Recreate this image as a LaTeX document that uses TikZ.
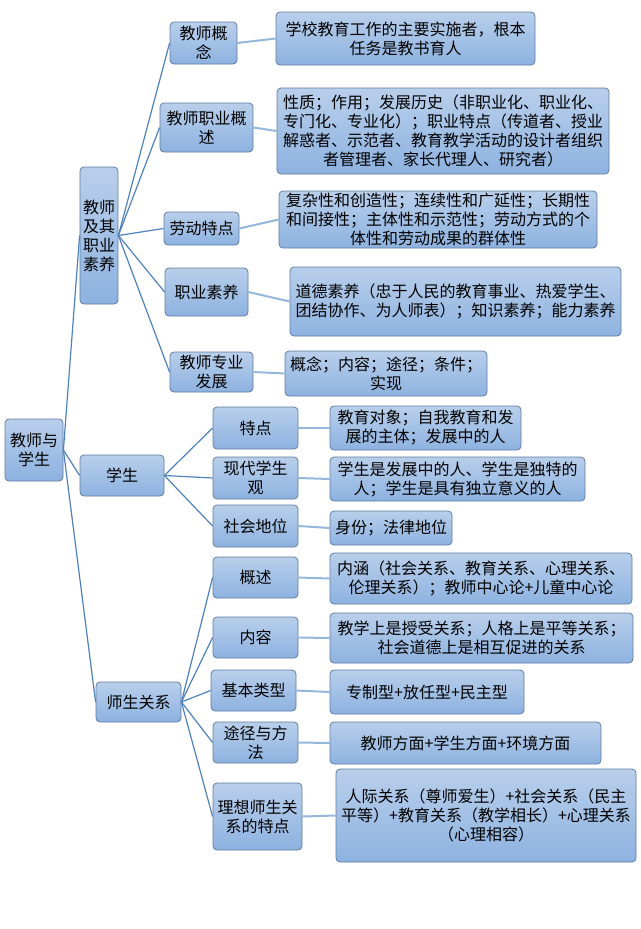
\documentclass[tikz,border=0pt]{standalone}
\usepackage{fontspec}
\setmainfont{Noto Sans CJK SC}
\definecolor{boxtop}{RGB}{185,207,235}
\definecolor{boxbot}{RGB}{141,178,224}
\definecolor{boxline}{RGB}{96,124,160}
\definecolor{branch}{RGB}{79,129,189}
\definecolor{leafline}{RGB}{149,183,220}
\tikzset{
  box/.style={draw=boxline, line width=0.8pt, rounded corners=4pt, top color=boxtop, bottom color=boxbot,
    align=center, inner sep=1pt, font=\fontsize{16}{19}\selectfont, text=black},
  br/.style={draw=branch, line width=1.2pt},
  lf/.style={draw=leafline, line width=2pt},
}
\newcommand{\bx}[6]{\node[box, minimum width=#3pt, minimum height=#4pt, text width=#3pt-4pt] (#1) at (#2) {#5};}
\begin{document}
\begin{tikzpicture}[x=1pt,y=-1pt]
\useasboundingbox (0,0) rectangle (640,929);
% level 0 and 1
\bx{root}{34,450}{58}{62}{教师与\\学生}{}
\bx{A}{99,235.5}{38}{137}{教师\\及其\\职业\\素养}{}
\bx{B}{122,475.5}{84}{41}{学生}{}
\bx{C}{138.5,702}{85}{40}{师生关系}{}
% A children
\bx{a1}{203.5,43}{67}{42}{教师概\\念}{}
\bx{a2}{206.5,127.5}{93}{49}{教师职业概\\述}{}
\bx{a3}{201.5,228.5}{75}{33}{劳动特点}{}
\bx{a4}{206.5,292}{83}{48}{职业素养}{}
\bx{a5}{211.5,372}{83}{40}{教师专业\\发展}{}
\bx{la1}{405.5,38.5}{259}{53}{学校教育工作的主要实施者，根本\\任务是教书育人}{}
\bx{la2}{443,131}{332}{86}{性质；作用；发展历史（非职业化、职业化、\\专门化、专业化）；职业特点（传道者、授业\\解惑者、示范者、教育教学活动的设计者组织\\者管理者、家长代理人、研究者）}{}
\bx{la3}{438,219.5}{318}{57}{复杂性和创造性；连续性和广延性；长期性\\和间接性；主体性和示范性；劳动方式的个\\体性和劳动成果的群体性}{}
\bx{la4}{455.5,301.5}{331}{69}{道德素养（忠于人民的教育事业、热爱学生、\\团结协作、为人师表）；知识素养；能力素养}{}
\bx{la5}{386,373.5}{202}{45}{概念；内容；途径；条件；\\实现}{}
% B children
\bx{b1}{255.5,428}{85}{42}{特点}{}
\bx{b2}{255.5,478}{85}{42}{现代学生\\观}{}
\bx{b3}{255.5,526}{85}{42}{社会地位}{}
\bx{lb1}{425.5,428}{191}{44}{教育对象；自我教育和发\\展的主体；发展中的人}{}
\bx{lb2}{457.5,479}{255}{44}{学生是发展中的人、学生是独特的\\人；学生是具有独立意义的人}{}
\bx{lb3}{391,528}{122}{34}{身份；法律地位}{}
% C children
\bx{c1}{255.5,577.5}{85}{41}{概述}{}
\bx{c2}{255.5,637.5}{85}{41}{内容}{}
\bx{c3}{253.5,690.5}{85}{41}{基本类型}{}
\bx{c4}{255.5,742.5}{85}{41}{途径与方\\法}{}
\bx{c5}{257.5,816.5}{89}{67}{理想师生关\\系的特点}{}
\bx{lc1}{481,578.5}{302}{51}{内涵（社会关系、教育关系、心理关系、\\伦理关系）；教师中心论+儿童中心论}{}
\bx{lc2}{481.5,638}{303}{50}{教学上是授受关系；人格上是平等关系；\\社会道德上是相互促进的关系}{}
\bx{lc3}{427,692}{194}{44}{专制型+放任型+民主型}{}
\bx{lc4}{465.5,743}{271}{42}{教师方面+学生方面+环境方面}{}
\bx{lc5}{486,815.5}{300}{93}{人际关系（尊师爱生）+社会关系（民主\\平等）+教育关系（教学相长）+心理关系\\（心理相容）}{}
% connectors
\foreach \c in {A,B,C} \draw[br] (root.east) -- (\c.west);
\foreach \c in {a1,a2,a3,a4,a5} \draw[br] (A.east) -- (\c.west);
\foreach \c in {b1,b2,b3} \draw[br] (B.east) -- (\c.west);
\foreach \c in {c1,c2,c3,c4,c5} \draw[br] (C.east) -- (\c.west);
\foreach \p/\q in {a1/la1,a2/la2,a3/la3,a4/la4,a5/la5,b1/lb1,b2/lb2,b3/lb3,c1/lc1,c2/lc2,c3/lc3,c4/lc4,c5/lc5}
  \draw[lf] (\p.east) -- (\q.west);
\end{tikzpicture}
\end{document}
